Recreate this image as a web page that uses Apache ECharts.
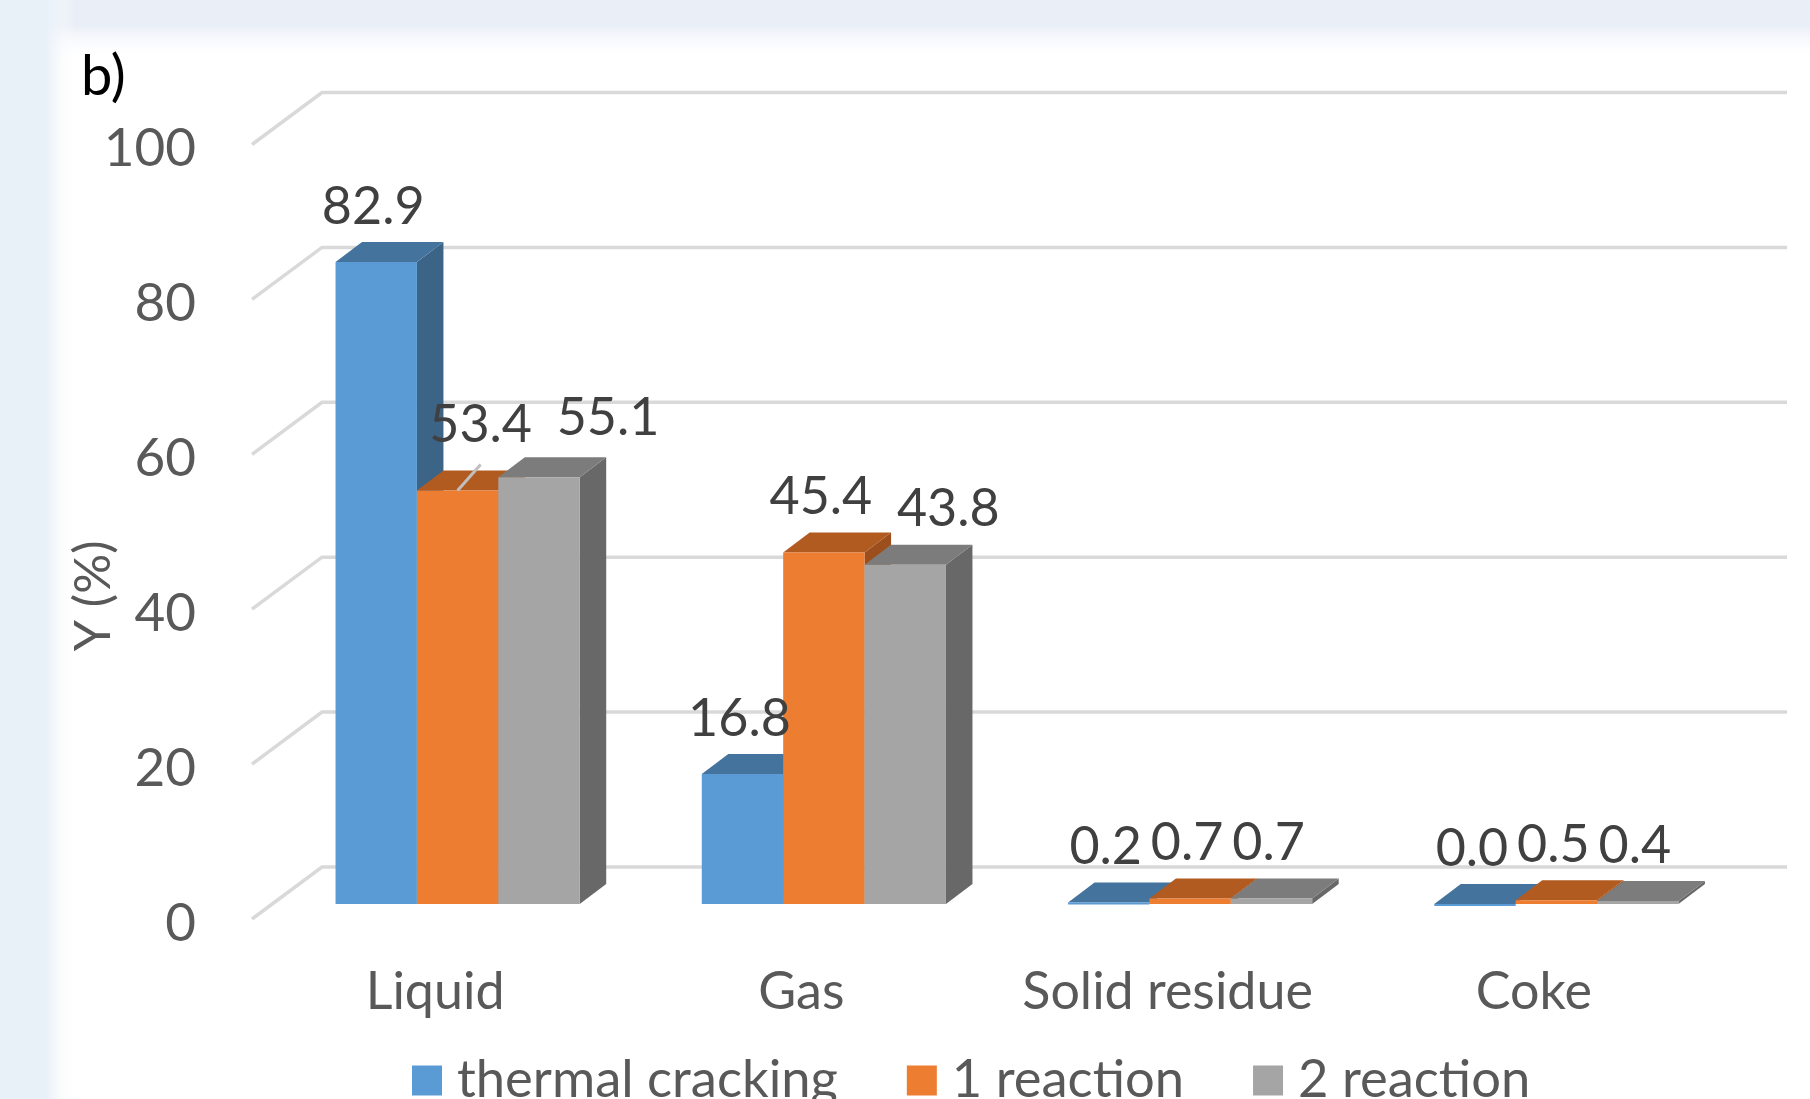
<!DOCTYPE html>
<html>
<head>
<meta charset="utf-8">
<style>html,body{margin:0;padding:0;background:#FFFFFF;overflow:hidden}#chart{width:1810px;height:1099px}</style>
<script src="https://cdn.jsdelivr.net/npm/echarts@6/dist/echarts.min.js"></script>
</head>
<body>
<div id="chart"></div>
<script>
const categories = ['Liquid', 'Gas', 'Solid residue', 'Coke'];
const thermalCracking = [82.9, 16.8, 0.2, 0.0];
const reaction1 = [53.4, 45.4, 0.7, 0.5];
const reaction2 = [55.1, 43.8, 0.7, 0.4];
const yTicks = [0, 20, 40, 60, 80, 100];

const seriesNames = ['thermal cracking', '1 reaction', '2 reaction'];
const faceColors = ['#5B9BD5', '#ED7D31', '#A5A5A5'];
const topColors = ['#44739E', '#B25B20', '#7C7C7C'];
const sideColors = ['#3B6487', '#9C4F1C', '#686868'];

// Pseudo-3D projection, in pixels
const WALL_DX = 70, WALL_DY = 52;     // front plane to back wall
const BAR_DX = 22.5, BAR_DY = 15;     // front plane to bar front face
const DEPTH_X = 26.5, DEPTH_Y = 20;   // bar depth
const GAP_RATIO = 1.5;                // gap between groups, in bar widths
const FONT = 'Lato';

// Data labels sit above the bar, a few were moved aside to stay readable
const labelOffset = { default: [-3, -55], '1-0': [23, -65], '2-0': [69, -59], '2-1': [43, -56] };
const leaderLines = { '1-0': [23, -26] };

function wallItem(params, api) {
  const y = api.coord([0, api.value(1)])[1];
  const cs = params.coordSys;
  return {
    type: 'polyline',
    shape: { points: [[cs.x, y], [cs.x + WALL_DX, y - WALL_DY], [cs.x + WALL_DX + cs.width, y - WALL_DY]] },
    style: { stroke: '#D9D9D9', lineWidth: 3.5, fill: null }
  };
}

function barItem(k) {
  return function (params, api) {
    const i = api.value(0), v = api.value(1);
    const w = api.size([1, 0])[0] / (seriesNames.length + GAP_RATIO);
    const cx = api.coord([i, 0])[0] + BAR_DX;
    const base = api.coord([i, 0])[1] - BAR_DY;
    const top = api.coord([i, v])[1] - BAR_DY;
    const x0 = cx - w * seriesNames.length / 2 + k * w;
    const x1 = x0 + w;
    const key = k + '-' + i;
    const off = labelOffset[key] || labelOffset.default;
    const mid = (x0 + x1) / 2;
    const children = [
      { type: 'polygon', shape: { points: [[x1, top], [x1 + DEPTH_X, top - DEPTH_Y], [x1 + DEPTH_X, base - DEPTH_Y], [x1, base]] },
        style: { fill: sideColors[k] } },
      { type: 'polygon', shape: { points: [[x0, top], [x0 + DEPTH_X, top - DEPTH_Y], [x1 + DEPTH_X, top - DEPTH_Y], [x1, top]] },
        style: { fill: topColors[k] } },
      { type: 'rect', shape: { x: x0, y: top, width: w, height: Math.max(base - top, 2) },
        style: { fill: faceColors[k] } },
      { type: 'text', z2: 100,
        style: { x: mid + off[0], y: top + off[1], text: v.toFixed(1), font: '52px ' + FONT,
                 fill: '#404040', align: 'center', verticalAlign: 'middle' } }
    ];
    if (leaderLines[key]) {
      const l = leaderLines[key];
      children.push({ type: 'line', z2: 90, shape: { x1: mid, y1: top, x2: mid + l[0], y2: top + l[1] },
        style: { stroke: '#BFBFBF', lineWidth: 3 } });
    }
    return { type: 'group', children };
  };
}

const barSeries = [thermalCracking, reaction1, reaction2].map((vals, k) => ({
  name: seriesNames[k],
  type: 'custom',
  coordinateSystem: 'cartesian2d',
  renderItem: barItem(k),
  encode: { x: 0, y: 1 },
  itemStyle: { color: faceColors[k] },
  data: vals.map((v, i) => [i, v]),
  silent: true,
  z: 2
}));

// Pale blue page margin fading into the white panel
function fade(x2, y2, color, solidUntil) {
  return new echarts.graphic.LinearGradient(0, 0, x2, y2, [
    { offset: 0, color: color },
    { offset: solidUntil, color: color },
    { offset: 1, color: 'rgba(255,255,255,0)' }
  ]);
}

const chart = echarts.init(document.getElementById('chart'), null, { renderer: 'canvas' });
chart.setOption({
  animation: false,
  backgroundColor: 'transparent',
  graphic: [
    { type: 'rect', z: -10, silent: true, shape: { x: 0, y: 0, width: 1810, height: 60 },
      style: { fill: fade(0, 1, '#E9EEF7', 0.42) } },
    { type: 'rect', z: -10, silent: true, shape: { x: 0, y: 0, width: 76, height: 1099 },
      style: { fill: fade(1, 0, '#E8F0F8', 0.6) } }
  ],
  title: {
    text: 'b)', left: 76, top: 44,
    textStyle: { color: '#000000', fontFamily: FONT, fontWeight: 'normal', fontSize: 56 }
  },
  grid: { left: 252, top: 144.5, width: 1465, height: 774.5, containLabel: false },
  legend: {
    data: seriesNames, left: 407, top: 1049, icon: 'rect',
    itemWidth: 30, itemHeight: 30, itemGap: 69,
    textStyle: { color: '#595959', fontFamily: FONT, fontSize: 52.5, padding: [0, 0, 0, 10] }
  },
  xAxis: {
    type: 'category', data: categories,
    axisLine: { show: false }, axisTick: { show: false },
    axisLabel: { interval: 0, margin: 47, color: '#595959', fontFamily: FONT, fontSize: 52 }
  },
  yAxis: {
    type: 'value', min: 0, max: 100, interval: 20,
    name: 'Y (%)', nameLocation: 'middle', nameGap: 133, nameRotate: 90, nameMoveOverlap: false,
    nameTextStyle: { color: '#595959', fontFamily: FONT, fontSize: 50, padding: [0, 128, 0, 0] },
    axisLine: { show: false }, axisTick: { show: false }, splitLine: { show: false },
    axisLabel: {
      margin: 56,
      formatter: '{tick|{value}}',
      rich: { tick: { color: '#595959', fontFamily: FONT, fontSize: 53, padding: [9, 0, 0, 0] } }
    }
  },
  series: [{
    type: 'custom', coordinateSystem: 'cartesian2d', silent: true, z: 1,
    renderItem: wallItem, encode: { y: 1 },
    data: yTicks.map(t => [0, t])
  }].concat(barSeries)
});
</script>
</body>
</html>
